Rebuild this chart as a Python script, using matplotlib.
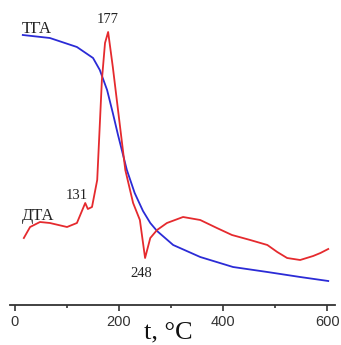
import numpy as np
import matplotlib.pyplot as plt

# temperatures (degC) and signal heights (arbitrary units)
tga_t = [15, 67, 119, 150, 163, 177, 188, 198, 215, 230, 246, 260, 273, 304, 356, 419, 485, 548, 602]
tga_y = [270, 267, 258, 247, 235, 215, 192, 170, 135, 112, 94, 82, 74, 60, 48, 38, 33, 28, 24]

dta_t = [17, 29, 48, 67, 100, 119, 135, 140, 148, 158, 167, 173, 179, 188,
         198, 212, 227, 240, 250, 260, 273, 292, 323, 356, 388, 417, 452,
         485, 504, 523, 548, 573, 587, 602]
dta_y = [67, 78, 83, 82, 78, 82, 102, 96, 98, 125, 225, 262, 273, 238,
         195, 135, 102, 85, 47, 67, 75, 82, 88, 85, 77, 70, 65,
         60, 53, 47, 45, 49, 52, 56]

peaks = ['177', '131', '248']

fig = plt.figure(figsize=(3.41, 3.45), dpi=100)
ax = fig.add_axes([10 / 341, 40 / 345, 325 / 341, 305 / 345])
ax.plot(tga_t, tga_y, color='#2b2bd6', lw=1.3)
ax.plot(dta_t, dta_y, color='#e52a2e', lw=1.3)

ax.set_xlim(-9.6, 615)
ax.set_ylim(0, 305)
for s in ['top', 'right', 'left']:
    ax.spines[s].set_visible(False)
ax.spines['bottom'].set_color('#333333')
ax.spines['bottom'].set_linewidth(1.3)
ax.set_yticks([])
ax.set_xticks([0, 200, 400, 600])
ax.set_xticks([100, 300, 500], minor=True)
ax.tick_params(axis='x', which='major', length=4, width=1.2, color='#333333',
               labelsize=10.5, labelcolor='#333333', pad=3)
ax.tick_params(axis='x', which='minor', length=2.5, width=1.2, color='#333333')
for lab in ax.get_xticklabels():
    lab.set_family('Liberation Sans')

serif = 'Liberation Serif'
ax.text(13, 272, 'ТГА', family=serif, fontsize=12, color='#222222')
ax.text(13, 85, 'ДТА', family=serif, fontsize=12, color='#222222')
ax.text(178, 282, peaks[0], family=serif, fontsize=10.5, color='#222222', ha='center')
ax.text(118, 106, peaks[1], family=serif, fontsize=10.5, color='#222222', ha='center')
ax.text(243, 28, peaks[2], family=serif, fontsize=10.5, color='#222222', ha='center')

fig.text(168 / 341, 13 / 345, 't, °C', family=serif, fontsize=19, color='#111111',
         ha='center', va='center')

fig.savefig('out.png', dpi=100)
